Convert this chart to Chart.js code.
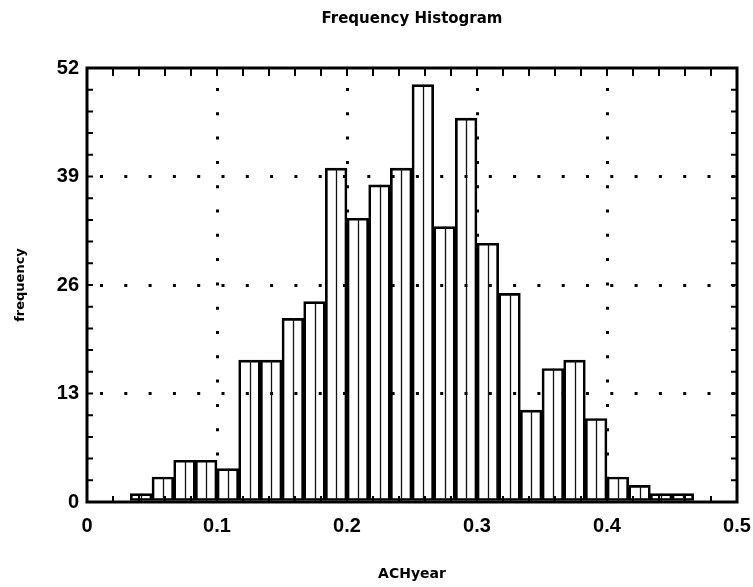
<!DOCTYPE html>
<html>
<head>
<meta charset="utf-8">
<script src="https://cdn.jsdelivr.net/npm/chart.js@4/dist/chart.umd.min.js"></script>
<style>
  html, body { margin: 0; padding: 0; background: #ffffff; }
  #wrap { width: 753px; height: 587px; }
</style>
</head>
<body>
<div id="wrap"><canvas id="c" width="753" height="587"></canvas></div>
<script>
// ---- data ----
const binStarts = [0.03333, 0.05, 0.06667, 0.08333, 0.1, 0.11667, 0.13333, 0.15, 0.16667, 0.18333,
                   0.2, 0.21667, 0.23333, 0.25, 0.26667, 0.28333, 0.3, 0.31667, 0.33333, 0.35,
                   0.36667, 0.38333, 0.4, 0.41667, 0.43333, 0.45];
const binWidth = 0.016667;
const frequencies = [1, 3, 5, 5, 4, 17, 17, 22, 24, 40,
                     34, 38, 40, 50, 33, 46, 31, 25, 11, 16,
                     17, 10, 3, 2, 1, 1];
const xTickValues = [0, 0.1, 0.2, 0.3, 0.4, 0.5];
const yTickValues = [0, 13, 26, 39, 52];
const xMinorStep = 0.02;
const yMinorStep = 2.6;
const chartTitle = 'Frequency Histogram';
const xTitle = 'ACHyear';
const yTitle = 'frequency';

const points = binStarts.map((s, i) => ({ x: s + binWidth / 2, y: frequencies[i] }));

const labelFont = "'Liberation Sans', Arial, sans-serif";
const titleFont = "'DejaVu Sans', 'Liberation Sans', sans-serif";

const framePlugin = {
  id: 'frame',
  afterDatasetsDraw(chart) {
    const ctx = chart.ctx;
    const ca = chart.chartArea;
    const xs = chart.scales.x, ys = chart.scales.y;
    ctx.save();
    // thin centre line inside each bin
    ctx.strokeStyle = '#111';
    ctx.lineWidth = 1.3;
    chart.getDatasetMeta(0).data.forEach(el => {
      ctx.beginPath();
      ctx.moveTo(Math.round(el.x) + 0.5, el.y);
      ctx.lineTo(Math.round(el.x) + 0.5, el.base);
      ctx.stroke();
    });
    // inward minor ticks
    ctx.lineWidth = 2;
    ctx.strokeStyle = '#000';
    for (let v = xMinorStep; v < xs.max - 1e-9; v += xMinorStep) {
      const px = xs.getPixelForValue(v);
      ctx.beginPath();
      ctx.moveTo(px, ca.top); ctx.lineTo(px, ca.top + 8);
      ctx.moveTo(px, ca.bottom); ctx.lineTo(px, ca.bottom - 6);
      ctx.stroke();
    }
    for (let v = yMinorStep; v < ys.max - 1e-9; v += yMinorStep) {
      const py = ys.getPixelForValue(v);
      ctx.beginPath();
      ctx.moveTo(ca.left, py); ctx.lineTo(ca.left + 6, py);
      ctx.moveTo(ca.right, py); ctx.lineTo(ca.right - 6, py);
      ctx.stroke();
    }
    // frame
    ctx.lineWidth = 3;
    ctx.strokeRect(ca.left, ca.top, ca.right - ca.left, ca.bottom - ca.top);
    ctx.restore();
  }
};

new Chart(document.getElementById('c'), {
  type: 'bar',
  data: {
    datasets: [{
      data: points,
      backgroundColor: 'rgba(255,255,255,0)',
      borderColor: '#000',
      borderWidth: 2,
      borderSkipped: false,
      barPercentage: 1,
      categoryPercentage: 1
    }]
  },
  options: {
    responsive: false,
    animation: false,
    layout: { padding: { left: 0, right: 16, top: 0, bottom: 0 } },
    plugins: {
      legend: { display: false },
      tooltip: { enabled: false },
      title: {
        display: true,
        text: chartTitle,
        fullSize: false,
        color: '#000',
        font: { family: titleFont, size: 15, weight: 'bold' },
        padding: { top: 10, bottom: 40 }
      }
    },
    scales: {
      x: {
        type: 'linear',
        offset: false,
        min: 0, max: 0.5,
        afterFit: s => { s.height = 85; s.paddingLeft = 0; s.paddingRight = 0; },
        afterBuildTicks: s => { s.ticks = xTickValues.map(v => ({ value: v })); },
        ticks: {
          color: '#000',
          padding: 12,
          font: { family: labelFont, size: 20, weight: 'bold' },
          callback: v => String(v)
        },
        grid: {
          offset: false,
          drawTicks: false,
          lineWidth: 3,
          color: ctx => (ctx.tick && (ctx.tick.value === 0 || ctx.tick.value === 0.5)) ? 'rgba(0,0,0,0)' : '#000'
        },
        border: { display: false, dash: [3, 21.3], dashOffset: 4.3 },
        title: {
          display: true, text: xTitle, color: '#000',
          font: { family: titleFont, size: 14, weight: 'bold' },
          padding: { top: 0, bottom: 4 }
        }
      },
      y: {
        min: 0, max: 52,
        afterFit: s => { s.width = 87; s.paddingTop = 0; s.paddingBottom = 0; },
        afterBuildTicks: s => { s.ticks = yTickValues.map(v => ({ value: v })); },
        ticks: {
          color: '#000',
          padding: 8,
          font: { family: labelFont, size: 20, weight: 'bold' }
        },
        grid: {
          drawTicks: false,
          lineWidth: 3,
          color: ctx => (ctx.tick && (ctx.tick.value === 0 || ctx.tick.value === 52)) ? 'rgba(0,0,0,0)' : '#000'
        },
        border: { display: false, dash: [3, 21.3], dashOffset: 11.3 },
        title: {
          display: true, text: yTitle, color: '#000',
          font: { family: titleFont, size: 13, weight: 'bold' },
          padding: { top: 13, bottom: 0 }
        }
      }
    }
  },
  plugins: [framePlugin]
});
</script>
</body>
</html>
